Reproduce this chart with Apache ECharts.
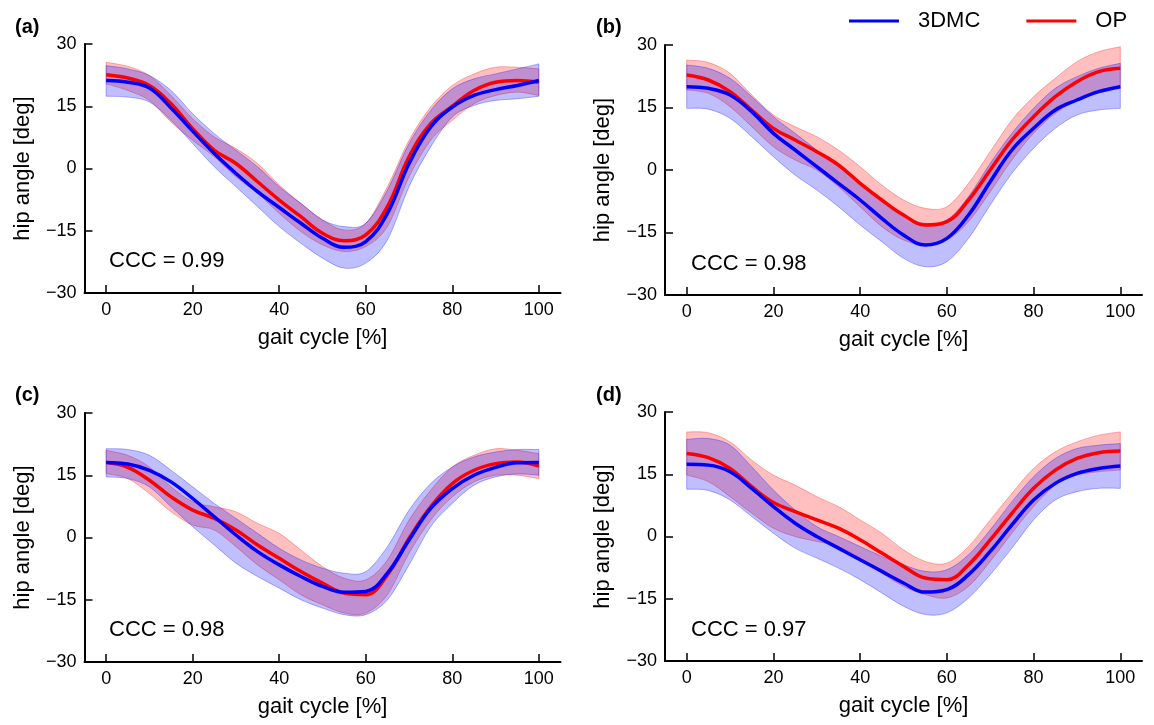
<!DOCTYPE html>
<html>
<head>
<meta charset="utf-8">
<script src="https://cdn.jsdelivr.net/npm/echarts@6/dist/echarts.min.js"></script>
<style>
html,body{margin:0;padding:0;background:#fff;}
#chart{width:1154px;height:725px;}
</style>
</head>
<body>
<div id="chart"></div>
<script>
// gait cycle samples [%]
var xs = [0,5,10,15,20,25,30,35,40,45,50,55,60,65,70,75,80,85,90,95,100];
var xTicks = [0,20,40,60,80,100];
var panelLabels = ['(a)','(b)','(c)','(d)'];
var cccLabels = ['CCC = 0.99','CCC = 0.98','CCC = 0.98','CCC = 0.97'];
var seriesNames = ['3DMC','OP'];

// Panel (a)
var aBlue   = [21.2,20.8,19.4,14.6,9.0,3.6,-1.2,-5.6,-9.4,-13.2,-16.8,-19.0,-17.6,-10.8,1.2,10.0,14.8,17.6,19.0,20.0,21.2];
var aBlueHi = [24.8,24.0,22.4,18.8,13.2,8.4,4.4,0.4,-4.4,-8.4,-12.4,-14.0,-13.2,-5.2,6.0,14.0,19.2,21.6,22.8,24.0,25.2];
var aBlueLo = [17.4,17.2,16.0,11.6,6.0,0.4,-4.4,-9.2,-14.0,-18.0,-21.6,-24.0,-22.8,-17.2,-4.4,5.2,12.4,15.2,16.4,16.8,17.4];
var aRed    = [22.6,21.8,20.0,15.6,9.6,4.4,1.2,-3.2,-7.6,-11.6,-15.6,-17.4,-16.0,-9.2,2.8,10.8,15.0,18.8,20.8,21.2,20.8];
var aRedHi  = [25.6,24.6,22.4,17.6,12.0,7.6,4.8,1.2,-4.0,-8.4,-12.4,-14.8,-13.2,-4.4,6.8,14.8,20.0,22.8,24.4,24.4,24.0];
var aRedLo  = [20.4,18.8,16.4,11.2,6.8,2.8,-2.0,-6.0,-10.8,-15.2,-18.4,-20.0,-18.8,-14.0,-2.0,6.8,11.6,15.6,17.6,18.4,17.6];

// Panel (b)
var bBlue   = [20.0,19.6,18.0,14.0,8.8,4.8,0.8,-3.2,-7.2,-11.6,-15.6,-18.0,-16.4,-10.8,-2.8,4.8,10.0,14.4,16.8,18.8,20.0];
var bBlueHi = [25.2,24.4,22.0,17.6,12.8,8.8,4.8,0.8,-3.6,-7.6,-11.2,-12.8,-12.0,-6.4,1.6,8.8,14.8,19.6,22.4,24.4,25.6];
var bBlueLo = [14.8,14.6,12.4,8.0,3.2,-1.2,-4.8,-8.8,-13.2,-17.2,-21.2,-23.2,-22.0,-16.4,-8.4,-0.8,5.2,10.0,13.2,14.4,14.8];
var bRed    = [22.8,21.6,18.8,14.4,10.0,7.2,4.4,1.2,-3.2,-7.2,-10.8,-13.2,-12.4,-7.2,0.0,7.2,12.8,17.6,21.2,23.6,24.4];
var bRedHi  = [26.4,25.8,23.2,18.0,13.2,10.4,8.0,4.8,0.8,-3.6,-7.2,-9.2,-8.8,-3.2,4.4,12.0,17.6,22.0,26.0,28.4,29.6];
var bRedLo  = [19.2,18.4,15.2,10.4,5.6,2.4,0.0,-4.0,-8.8,-13.6,-16.8,-18.0,-16.8,-12.4,-5.2,2.4,8.8,13.6,16.8,19.2,19.8];

// Panel (c)
var cBlue   = [18.1,17.7,16.2,13.4,9.4,5.0,0.6,-3.4,-6.6,-9.4,-11.8,-13.2,-13.0,-8.6,-0.6,7.0,11.8,15.0,16.9,18.0,18.1];
var cBlueHi = [21.4,21.2,19.8,16.2,12.2,8.2,4.6,1.0,-2.6,-5.4,-7.4,-8.6,-8.2,-2.2,6.6,13.0,17.0,19.4,20.6,21.2,21.2];
var cBlueLo = [14.6,14.2,12.2,7.4,2.6,-1.8,-6.2,-9.4,-12.2,-15.0,-17.0,-18.6,-18.6,-15.0,-6.6,2.6,8.2,12.6,14.6,15.3,15.0];
var cRed    = [18.1,16.9,13.8,9.8,6.6,4.6,1.8,-1.8,-5.0,-8.2,-11.0,-13.4,-13.8,-9.0,-0.2,7.4,13.0,16.2,17.8,18.2,17.2];
var cRedHi  = [21.0,19.8,17.0,12.2,8.6,7.4,6.2,3.4,1.0,-3.0,-7.0,-9.8,-10.2,-5.4,4.2,11.4,17.0,19.8,21.4,21.0,20.2];
var cRedLo  = [15.4,14.2,10.6,6.2,3.0,1.8,-2.2,-6.6,-10.2,-13.8,-16.2,-18.2,-18.2,-13.8,-3.8,4.2,9.8,13.4,15.0,15.0,14.2];

// Panel (d)
var dBlue   = [17.4,17.2,15.6,11.6,7.2,3.2,0.0,-2.8,-5.6,-8.4,-11.2,-13.4,-12.8,-9.2,-3.6,2.8,8.8,12.8,15.2,16.4,17.0];
var dBlueHi = [23.4,23.6,22.0,16.8,11.2,6.4,2.4,0.0,-2.4,-4.8,-6.8,-8.4,-8.0,-4.4,1.6,8.4,14.4,18.8,21.2,22.0,22.4];
var dBlueLo = [11.4,11.1,8.8,4.8,0.8,-2.8,-5.2,-7.6,-10.4,-13.6,-16.8,-18.8,-18.4,-14.8,-9.2,-2.8,4.0,8.8,10.8,11.6,11.6];
var dRed    = [20.0,19.0,16.4,12.0,8.2,6.0,4.0,2.0,-0.8,-4.0,-7.2,-10.0,-10.4,-6.8,-0.8,5.6,11.6,16.0,18.8,20.2,20.6];
var dRedHi  = [25.2,25.0,22.8,18.4,14.8,12.4,9.6,7.2,4.0,0.8,-3.2,-6.0,-6.4,-2.4,4.0,10.4,16.4,20.4,22.8,24.4,25.2];
var dRedLo  = [14.8,13.2,9.6,5.6,2.0,0.0,-1.2,-2.4,-5.2,-8.8,-12.0,-14.0,-14.8,-12.0,-6.0,0.8,7.2,12.4,14.8,15.6,16.0];

var panels = [
  {blue:aBlue, blueHi:aBlueHi, blueLo:aBlueLo, red:aRed, redHi:aRedHi, redLo:aRedLo},
  {blue:bBlue, blueHi:bBlueHi, blueLo:bBlueLo, red:bRed, redHi:bRedHi, redLo:bRedLo},
  {blue:cBlue, blueHi:cBlueHi, blueLo:cBlueLo, red:cRed, redHi:cRedHi, redLo:cRedLo},
  {blue:dBlue, blueHi:dBlueHi, blueLo:dBlueLo, red:dRed, redHi:dRedHi, redLo:dRedLo}
];

// layout
var FONT = '"Liberation Sans", Arial, Helvetica, sans-serif';
var grids = [
  {left:84.5, top:44,  width:476, height:249},
  {left:665,  top:45,  width:477, height:250},
  {left:84.5, top:413, width:476, height:249},
  {left:665,  top:412, width:477, height:249}
];
var labelPos = [[15,27],[596,27],[15,395],[596,395]];
var cccPos = [[109,261],[691,264],[109,630],[691,630]];

var BLUE = '#0000ff', RED = '#ff0000';
var BLUE_RGB = '0,0,255', RED_RGB = '255,0,0';

function pairs(arr){ return xs.map(function(x,i){ return [x, arr[i]]; }); }

// smooth curve segments (Catmull-Rom -> cubic Bezier) through pixel points
function curveSegs(p){
  var s = '';
  for (var i = 0; i < p.length - 1; i++) {
    var p0 = p[Math.max(i-1,0)], p1 = p[i], p2 = p[i+1], p3 = p[Math.min(i+2,p.length-1)];
    var c1x = p1[0] + (p2[0]-p0[0])/6, c1y = p1[1] + (p2[1]-p0[1])/6;
    var c2x = p2[0] - (p3[0]-p1[0])/6, c2y = p2[1] - (p3[1]-p1[1])/6;
    s += ' C' + c1x + ',' + c1y + ' ' + c2x + ',' + c2y + ' ' + p2[0] + ',' + p2[1];
  }
  return s;
}

function bandSeries(g, lo, hi, rgb, key){
  return {
    type:'custom', name:key + '-band' + g, xAxisIndex:g, yAxisIndex:g,
    silent:true, z:1, animation:false, data:[0],
    renderItem:function(params, api){
      var up = xs.map(function(x,i){ return api.coord([x, hi[i]]); });
      var dn = xs.map(function(x,i){ return api.coord([x, lo[i]]); }).reverse();
      var d = 'M' + up[0][0] + ',' + up[0][1] + curveSegs(up) +
              ' L' + dn[0][0] + ',' + dn[0][1] + curveSegs(dn) + ' Z';
      return {
        type:'path', shape:{pathData:d},
        style:{fill:'rgba(' + rgb + ',0.25)', stroke:'rgba(' + rgb + ',0.3)', lineWidth:1}
      };
    }
  };
}

var xAxes = [], yAxes = [], series = [], graphics = [];
grids.forEach(function(gr, g){
  xAxes.push({
    type:'value', gridIndex:g, min:-5, max:105,
    name:'gait cycle [%]', nameLocation:'middle', nameGap:34,
    nameTextStyle:{fontFamily:FONT, fontSize:22, color:'#000'},
    axisLine:{show:true, onZero:false, lineStyle:{color:'#000', width:2}},
    axisTick:{show:true, inside:true, length:8, customValues:xTicks, lineStyle:{color:'#000', width:1.5}},
    axisLabel:{show:true, customValues:xTicks, margin:8, fontFamily:FONT, fontSize:18, color:'#000'},
    splitLine:{show:false}
  });
  yAxes.push({
    type:'value', gridIndex:g, min:-30, max:30, interval:15,
    name:'hip angle [deg]', nameLocation:'middle', nameGap:51, nameRotate:90,
    nameTextStyle:{fontFamily:FONT, fontSize:22, color:'#000'},
    axisLine:{show:true, onZero:false, lineStyle:{color:'#000', width:2}},
    axisTick:{show:true, inside:true, length:8, lineStyle:{color:'#000', width:1.5}},
    axisLabel:{show:true, margin:8, fontFamily:FONT, fontSize:18, color:'#000',
      formatter:function(v){ return String(v).replace('-', '\u2212'); }},
    splitLine:{show:false}
  });
  var p = panels[g];
  series.push(bandSeries(g, p.redLo, p.redHi, RED_RGB, 'op'));
  series.push(bandSeries(g, p.blueLo, p.blueHi, BLUE_RGB, 'dmc'));
  series.push({
    type:'line', name:seriesNames[1], xAxisIndex:g, yAxisIndex:g, data:pairs(p.red),
    smooth:0.4, showSymbol:false, symbol:'none', color:RED,
    lineStyle:{color:RED, width:3.5}, itemStyle:{color:RED}, z:3, animation:false
  });
  series.push({
    type:'line', name:seriesNames[0], xAxisIndex:g, yAxisIndex:g, data:pairs(p.blue),
    smooth:0.4, showSymbol:false, symbol:'none', color:BLUE,
    lineStyle:{color:BLUE, width:3.5}, itemStyle:{color:BLUE}, z:4, animation:false
  });
  graphics.push({
    type:'text', x:labelPos[g][0], y:labelPos[g][1],
    style:{text:panelLabels[g], font:'bold 20px ' + FONT, fill:'#000', verticalAlign:'middle', align:'left'}
  });
  graphics.push({
    type:'text', x:cccPos[g][0], y:cccPos[g][1],
    style:{text:cccLabels[g], font:'22px ' + FONT, fill:'#000', verticalAlign:'middle', align:'left'}
  });
});

var chart = echarts.init(document.getElementById('chart'), null, {renderer:'canvas'});
chart.setOption({
  backgroundColor:'#fff',
  animation:false,
  grid: grids.map(function(g){ return Object.assign({containLabel:false}, g); }),
  xAxis: xAxes,
  yAxis: yAxes,
  legend:{
    data:seriesNames, left:844, top:5, icon:'rect', itemWidth:50, itemHeight:3,
    itemGap:46, selectedMode:false,
    textStyle:{fontFamily:FONT, fontSize:22, color:'#000', padding:[0,0,0,14]}
  },
  graphic: graphics,
  series: series
});
</script>
</body>
</html>
